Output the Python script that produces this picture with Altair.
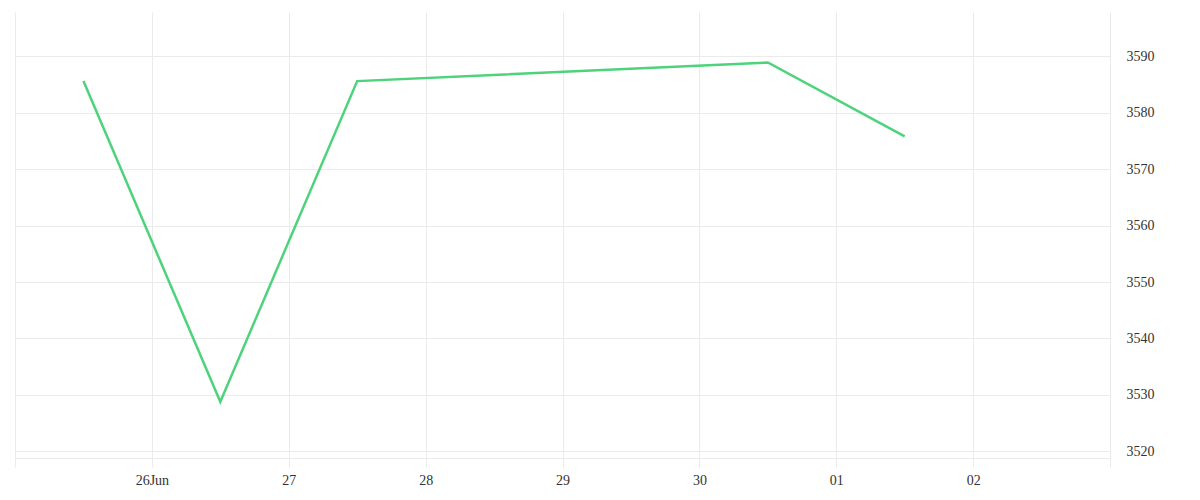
import altair as alt
import pandas as pd

dates = ["2023-06-25T12:00:00Z", "2023-06-26T12:00:00Z", "2023-06-27T12:00:00Z",
         "2023-06-30T12:00:00Z", "2023-07-01T12:00:00Z"]
values = [3585.6, 3528.8, 3585.6, 3588.9, 3575.8]

tick_days = [(6, 25), (6, 26), (6, 27), (6, 28), (6, 29), (6, 30), (7, 1), (7, 2), (7, 3)]
y_ticks = [3520, 3530, 3540, 3550, 3560, 3570, 3580, 3590]

df = pd.DataFrame({"date": dates, "value": values})

FONT = "Liberation Serif"
GRID = "#ebebeb"

x_vals = [alt.DateTime(year=2023, month=m, date=d, utc=True) for m, d in tick_days]

label_expr = ("utcdate(datum.value) == 26 ? utcFormat(datum.value, '%d%b') : "
              "((utcdate(datum.value) == 25 || utcdate(datum.value) == 3) ? '' : "
              "utcFormat(datum.value, '%d'))")

chart = alt.Chart(df).mark_line(color="#4dd37b", strokeWidth=2.5).encode(
    x=alt.X("date:T",
            scale=alt.Scale(type="utc",
                            domain=[alt.DateTime(year=2023, month=6, date=25, utc=True),
                                    alt.DateTime(year=2023, month=7, date=3, utc=True)],
                            nice=False),
            axis=alt.Axis(title=None, values=x_vals, labelExpr=label_expr,
                          grid=True, gridColor=GRID, tickColor=GRID, tickSize=9,
                          domainColor=GRID, labelPadding=6, labelFontSize=14,
                          labelFont=FONT, labelColor="#333333", labelFlush=False)),
    y=alt.Y("value:Q",
            scale=alt.Scale(domain=[3518.83, 3597.84], nice=False, zero=False),
            axis=alt.Axis(title=None, orient="right", values=y_ticks, ticks=False,
                          format="d",
                          domain=False, grid=True, gridColor=GRID, labelPadding=16,
                          labelFontSize=14, labelFont=FONT, labelColor="#333333",
                          labelFlush=False)),
).properties(
    width=1095,
    height=446,
    autosize=alt.AutoSizeParams(type="none"),
    padding={"left": 7, "top": 4, "right": 80, "bottom": 30},
).configure_view(stroke=None)

chart.save("out.html", embed_options={"renderer": "svg", "actions": False})
